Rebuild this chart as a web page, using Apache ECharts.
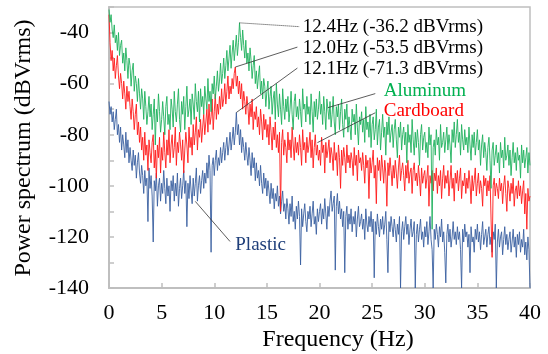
<!DOCTYPE html>
<html>
<head>
<meta charset="utf-8">
<script src="https://cdn.jsdelivr.net/npm/echarts@6/dist/echarts.min.js"></script>
<style>
html,body{margin:0;padding:0;background:#fff;}
#c{width:548px;height:354px;}
</style>
</head>
<body>
<div id="c"></div>
<script>
// frequency grid step (Hz) of the spectra below; first point at 0 Hz
const freqStep = 0.1;
const xTicks = [0, 5, 10, 15, 20, 25, 30, 35, 40];
const yTickLabels = [-140, -120, -100, -80, -60, -40];

const aluminum = [
-31,-36,-33,-39,-42,-37,-44,-41,-47,-40,
-49,-45,-43,-52,-48,-55,-46,-51,-58,-50,
-53,-61,-55,-52,-63,-57,-60,-67,-58,-64,
-70,-62,-66,-74,-63,-69,-76,-71,-65,-73,
-68,-78,-72,-66,-84,-70,-75,-64,-71,-79,
-74,-67,-73,-80,-69,-65,-76,-72,-78,-66,
-70,-77,-63,-71,-75,-68,-62,-74,-79,-67,
-72,-65,-78,-69,-61,-73,-70,-66,-76,-64,
-68,-74,-60,-67,-71,-63,-75,-62,-69,-65,
-72,-61,-66,-70,-58,-67,-63,-71,-60,-64,
-57,-66,-61,-55,-63,-59,-52,-60,-56,-50,
-58,-53,-47,-55,-50,-45,-54,-48,-43,-51,
-46,-41,-49,-44,-36.2,-42,-47,-39,-45,-50,
-43,-52,-48,-55,-46,-51,-58,-53,-49,-60,
-55,-62,-57,-53,-64,-59,-66,-58,-61,-69,
-63,-59,-70,-65,-61,-72,-66,-63,-74,-60,
-68,-73,-64,-70,-76,-62,-69,-74,-66,-71,
-65,-75,-70,-63,-72,-78,-67,-64,-73,-69,
-74,-66,-71,-77,-62,-70,-68,-75,-65,-72,
-69,-76,-64,-71,-79,-67,-73,-66,-74,-70,
-63,-72,-68,-76,-65,-71,-78,-66,-70,-74,
-67,-77,-72,-65,-75,-80,-69,-73,-68,-78,
-71,-66,-76,-81,-70,-74,-68,-79,-73,-77,
-82,-70,-75,-72,-80,-68,-77,-84,-73,-76,
-71,-79,-74,-83,-69,-78,-75,-81,-72,-85,
-76,-73,-82,-78,-70,-84,-77,-74,-86,-79,
-72,-81,-77,-88,-75,-80,-73,-83,-79,-76,
-85,-78,-74,-82,-89,-77,-81,-75,-86,-80,
-77,-84,-79,-91,-76,-83,-80,-87,-74,-82,
-88,-79,-85,-78,-83,-92,-80,-76,-86,-81,
-79,-87,-83,-89,-77,-84,-80,-117,-85,-82,
-88,-78,-84,-81,-90,-76,-85,-83,-79,-87,
-82,-77,-86,-80,-84,-91,-78,-83,-75,-85,
-80,-74,-83,-79,-88,-76,-82,-86,-78,-84,
-81,-87,-77,-84,-90,-80,-85,-79,-88,-83,
-78,-86,-82,-92,-84,-80,-89,-83,-87,-94,
-85,-81,-90,-101,-86,-83,-92,-88,-84,-91,
-87,-95,-83,-89,-86,-93,-81,-90,-88,-84,
-92,-86,-96,-89,-83,-91,-87,-94,-85,-90,
-88,-97,-84,-91,-86,-93,-89,-85,-95,-87,
-92
];

const cardboard = [
-33,-44,-51,-47,-55,-50,-58,-53,-49,-57,
-62,-56,-60,-66,-59,-64,-70,-61,-67,-63,
-69,-74,-66,-71,-78,-72,-68,-80,-75,-83,
-77,-86,-81,-90,-79,-88,-84,-94,-82,-87,
-91,-83,-80,-93,-86,-97,-84,-89,-81,-95,
-85,-90,-79,-87,-93,-82,-88,-78,-91,-84,
-80,-89,-85,-77,-92,-83,-87,-79,-84,-90,
-82,-95,-86,-79,-84,-91,-77,-85,-81,-88,
-76,-84,-79,-73,-86,-78,-81,-74,-83,-77,
-72,-80,-75,-70,-79,-68,-76,-73,-66,-78,
-71,-64,-74,-68,-72,-65,-70,-62,-69,-66,
-60,-68,-63,-57,-66,-61,-64,-58,-62,-56,
-53.5,-61,-57,-64,-59,-66,-60,-70,-63,-67,
-72,-65,-69,-76,-68,-73,-66,-78,-71,-74,
-69,-77,-73,-80,-70,-75,-82,-72,-78,-74,
-81,-76,-84,-73,-79,-86,-77,-82,-75,-85,
-80,-87,-79,-110,-83,-78,-88,-82,-85,-91,
-79,-86,-82,-89,-77,-84,-90,-81,-87,-83,
-88,-80,-85,-92,-78,-86,-83,-91,-81,-87,
-84,-79,-89,-82,-93,-85,-80,-88,-84,-90,
-86,-92,-81,-87,-84,-95,-83,-89,-86,-82,
-91,-85,-88,-94,-83,-90,-87,-96,-84,-89,
-101,-86,-92,-85,-89,-95,-84,-91,-88,-93,
-87,-90,-96,-85,-92,-88,-98,-86,-91,-89,
-94,-87,-92,-99,-88,-93,-90,-105,-89,-95,
-91,-86,-97,-92,-107,-89,-94,-90,-98,-88,
-93,-99,-90,-95,-108,-91,-96,-89,-94,-100,
-92,-97,-90,-95,-101,-93,-88,-98,-94,-91,
-96,-102,-92,-97,-90,-99,-95,-93,-103,-94,
-91,-98,-95,-100,-92,-97,-104,-93,-99,-96,
-94,-101,-97,-92,-108,-96,-99,-94,-102,-95,
-98,-93,-103,-96,-100,-94,-105,-97,-92,-101,
-96,-99,-94,-104,-98,-92,-101,-97,-106,-95,
-99,-94,-102,-97,-93,-105,-98,-100,-95,-103,
-97,-101,-94,-99,-107,-96,-102,-98,-93,-104,
-99,-95,-103,-98,-101,-108,-96,-100,-97,-104,
-98,-102,-96,-113,-128,-100,-97,-104,-99,-101,
-105,-97,-102,-99,-107,-100,-96,-103,-110,-98,
-101,-106,-99,-103,-97,-108,-102,-100,-105,-98,
-104,-100,-107,-102,-98,-111,-103,-117,-101,-106,
-104
];

const plastic = [
-67,-72,-69,-75,-71,-78,-74,-70,-80,-76,
-83,-77,-86,-80,-84,-89,-79,-87,-82,-91,
-85,-90,-94,-86,-92,-88,-97,-91,-87,-95,
-99,-92,-96,-103,-94,-100,-97,-114,-93,-101,
-96,-104,-122,-98,-102,-95,-108,-100,-97,-106,
-99,-103,-94,-101,-107,-97,-104,-100,-110,-98,
-102,-96,-106,-99,-104,-95,-108,-101,-97,-105,
-100,-94,-103,-98,-116,-99,-105,-96,-102,-107,
-97,-104,-99,-93,-106,-100,-96,-103,-98,-94,
-101,-95,-99,-91,-97,-88,-94,-126,-92,-89,
-96,-90,-86,-94,-89,-92,-85,-91,-87,-83,
-90,-85,-81,-88,-84,-79,-86,-82,-77,-84,
-79,-71.3,-80,-76,-84,-78,-87,-81,-85,-90,
-83,-88,-92,-85,-90,-96,-87,-93,-89,-98,
-91,-97,-94,-100,-92,-99,-103,-95,-101,-97,
-104,-98,-102,-107,-99,-105,-101,-109,-103,-106,
-100,-108,-104,-111,-106,-102,-110,-107,-113,-105,
-109,-115,-107,-112,-104,-114,-110,-117,-108,-113,
-106,-112,-131,-109,-116,-111,-107,-114,-118,-110,
-113,-108,-116,-111,-106,-115,-112,-119,-109,-114,
-110,-107,-115,-109,-113,-105,-111,-117,-108,-112,
-106,-102,-110,-107,-104,-133,-108,-103,-111,-106,
-113,-109,-116,-110,-134,-112,-108,-117,-111,-115,
-109,-118,-112,-115,-110,-120,-113,-108,-116,-114,
-111,-117,-113,-121,-109,-115,-118,-112,-116,-110,
-118,-113,-136,-114,-119,-111,-116,-120,-113,-117,
-112,-119,-115,-110,-121,-134,-114,-118,-112,-116,
-120,-113,-117,-122,-115,-119,-112,-140,-118,-114,
-121,-116,-112,-119,-115,-123,-117,-113,-120,-118,
-114,-140,-119,-115,-122,-117,-113,-121,-118,-124,
-116,-120,-114,-123,-118,-112,-121,-125,-140,-117,
-121,-115,-119,-124,-116,-120,-113,-122,-118,-126,
-138,-119,-115,-122,-117,-124,-120,-114,-121,-118,
-123,-116,-121,-118,-125,-140,-117,-122,-115,-120,
-118,-124,-119,-134,-116,-122,-120,-126,-117,-121,
-115,-122,-118,-125,-119,-114,-123,-120,-117,-124,
-119,-116,-123,-120,-126,-118,-121,-115,-140,-122,
-117,-124,-120,-118,-127,-121,-116,-123,-119,-125,
-121,-118,-126,-122,-117,-124,-120,-128,-119,-123,
-118,-126,-121,-124,-117,-127,-122,-129,-120,-125,
-140
];

// annotation texts and anchor points (data units: Hz, dBVrms)
const peakLabels = ['12.4Hz (-36.2 dBVrms)', '12.0Hz (-53.5 dBVrms)', '12.1Hz (-71.3 dBVrms)'];
const peakPoints = [[12.4, -36.2], [12.0, -53.5], [12.1, -71.3]];
const peakTextPos = [[18.4, -37.8], [18.4, -46.0], [18.4, -54.4]];
const seriesNames = ['Aluminum', 'Cardboard', 'Plastic'];

const FONT = '"Liberation Serif", "Times New Roman", serif';
const C_AL = '#1FB15E', C_CB = '#FF1A1A', C_PL = '#3A60A0';

function pairs(arr) { return arr.map((v, i) => [Math.round(i * freqStep * 10) / 10, v]); }

const chart = echarts.init(document.getElementById('c'), null, {renderer: 'canvas'});
const leader = {color: '#333', width: 0.8, type: 'solid'};
chart.setOption({
  animation: false,
  grid: {left: 109, right: 18, top: 7, bottom: 66, show: true, borderColor: '#BFBFBF', borderWidth: 1.5},
  xAxis: {
    type: 'value', min: 0, max: 40, interval: 5,
    axisLine: {lineStyle: {color: '#BFBFBF', width: 2}},
    axisTick: {inside: true, length: 5, lineStyle: {color: '#BFBFBF', width: 1.5}},
    splitLine: {show: false},
    axisLabel: {color: '#000', fontFamily: FONT, fontSize: 22, margin: 14,
      formatter: v => xTicks.includes(v) ? String(v) : ''}
  },
  yAxis: {
    type: 'value', min: -140, max: -30, interval: 10,
    axisLine: {show: true, lineStyle: {color: '#BFBFBF', width: 2}},
    axisTick: {show: true, inside: true, length: 5, lineStyle: {color: '#BFBFBF', width: 1.5}},
    splitLine: {show: false},
    axisLabel: {color: '#000', fontFamily: FONT, fontSize: 22, margin: 20,
      formatter: v => yTickLabels.includes(v) ? String(v) : ''}
  },
  series: [
    {name: seriesNames[2], type: 'line', data: pairs(plastic), showSymbol: false, symbol: 'none',
      lineStyle: {color: C_PL, width: 0.9}, z: 2},
    {name: seriesNames[1], type: 'line', data: pairs(cardboard), showSymbol: false, symbol: 'none',
      lineStyle: {color: C_CB, width: 0.9}, z: 3},
    {name: seriesNames[0], type: 'line', data: pairs(aluminum), showSymbol: false, symbol: 'none',
      lineStyle: {color: C_AL, width: 0.9}, z: 4,
      markLine: {silent: true, symbol: 'none', label: {show: false}, animation: false,
        data: [
          [{coord: peakPoints[0], lineStyle: {color: '#333', width: 1, type: 'dotted'}}, {coord: [18.1, -37.7]}],
          [{coord: peakPoints[1], lineStyle: leader}, {coord: [17.9, -45.7]}],
          [{coord: peakPoints[2], lineStyle: leader}, {coord: [17.9, -53.9]}],
          [{coord: [20.8, -69.4], lineStyle: leader}, {coord: [25.3, -63.9]}],
          [{coord: [19.8, -83.1], lineStyle: leader}, {coord: [25.3, -71.4]}],
          [{coord: [8.2, -106.1], lineStyle: leader}, {coord: [11.5, -121.8]}]
        ]}}
  ]
});

function px(p) { return chart.convertToPixel({gridIndex: 0}, p); }
const g = [];
peakLabels.forEach((t, i) => {
  const p = px(peakTextPos[i]);
  g.push({type: 'text', x: p[0], y: p[1], style: {text: t, fill: '#000', font: '19px ' + FONT, textAlign: 'left', textVerticalAlign: 'middle'}});
});
const nameSpec = [[seriesNames[0], [26.1, -62.8], '#00B050'], [seriesNames[1], [26.1, -70.6], '#FF0000'], [seriesNames[2], [12.0, -123.3], '#1F3F7A']];
nameSpec.forEach(([t, pos, col]) => {
  const p = px(pos);
  g.push({type: 'text', x: p[0], y: p[1], style: {text: t, fill: col, font: '19px ' + FONT, textAlign: 'left', textVerticalAlign: 'middle'}});
});
g.push({type: 'text', x: 24, y: 148, rotation: Math.PI / 2, style: {text: 'Power spectrum (dBVrms)', fill: '#000', font: '24px ' + FONT, textAlign: 'center', textVerticalAlign: 'middle'}});
g.push({type: 'text', x: 338, y: 340, style: {text: 'Frequency (Hz)', fill: '#000', font: '24px ' + FONT, textAlign: 'center', textVerticalAlign: 'middle'}});
chart.setOption({graphic: g});
</script>
</body>
</html>
